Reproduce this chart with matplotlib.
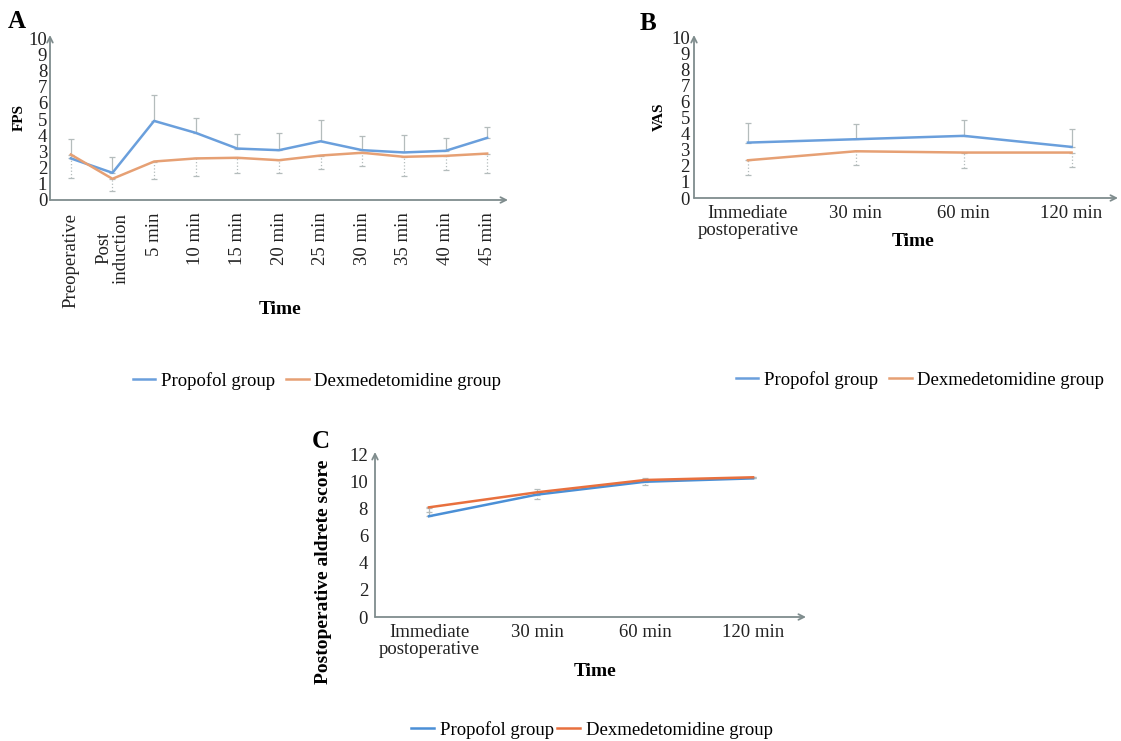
import matplotlib.pyplot as plt
import numpy as np

plt.rcParams['font.family'] = ['Liberation Serif', 'DejaVu Serif']

# Panel A: FPS during the procedure
times_a = ["Preoperative", "Post\ninduction", "5 min", "10 min", "15 min", "20 min",
           "25 min", "30 min", "35 min", "40 min", "45 min"]
fps_propofol = [2.57, 1.68, 4.89, 4.15, 3.18, 3.08, 3.63, 3.08, 2.94, 3.04, 3.84]
fps_propofol_sd = [1.23, 0.99, 1.58, 0.92, 0.89, 1.09, 1.30, 0.88, 1.06, 0.82, 0.68]
fps_dex = [2.81, 1.31, 2.38, 2.57, 2.61, 2.46, 2.75, 2.92, 2.67, 2.73, 2.87]
fps_dex_sd = [1.43, 0.76, 1.07, 1.09, 0.93, 0.78, 0.84, 0.81, 1.21, 0.88, 1.19]

# Panel B: VAS after surgery
times_post = ["Immediate\npostoperative", "30 min", "60 min", "120 min"]
vas_propofol = [3.45, 3.66, 3.87, 3.18]
vas_propofol_sd = [1.19, 0.93, 0.97, 1.10]
vas_dex = [2.35, 2.91, 2.83, 2.83]
vas_dex_sd = [0.89, 0.83, 0.96, 0.92]

# Panel C: Aldrete score
ald_propofol = [7.45, 9.05, 10.0, 10.25]
ald_propofol_sd = [0.64, 0.44, 0.25, 0.0]
ald_dex = [8.11, 9.22, 10.13, 10.33]
ald_dex_sd = [0.37, 0.49, 0.37, 0.0]

W, H = 1121, 741
AXC = "#7f8c8d"
ERRC = "#b4bcbc"
FS = 13.5


def rect(l, r, b, t):
    return [l / W, 1 - b / H, (r - l) / W, (b - t) / H]


def style_axes(ax):
    for s in ax.spines.values():
        s.set_visible(False)
    ax.annotate('', xy=(1, 0), xytext=(0, 0), xycoords='axes fraction',
                arrowprops=dict(arrowstyle='->', color=AXC, lw=1.3,
                                shrinkA=0, shrinkB=0))
    ax.annotate('', xy=(0, 1), xytext=(0, 0), xycoords='axes fraction',
                arrowprops=dict(arrowstyle='->', color=AXC, lw=1.3,
                                shrinkA=0, shrinkB=0))
    ax.tick_params(length=0, labelsize=FS, colors="#222222")


def draw(ax, x, prop, prop_err, dex, dex_err, cblue, corange):
    z = np.zeros(len(x))
    ax.errorbar(x, prop, yerr=[z, prop_err], fmt='none', ecolor=ERRC,
                elinewidth=0.9, capsize=2, capthick=0.9, zorder=1)
    e2 = ax.errorbar(x, dex, yerr=[dex_err, z], fmt='none', ecolor=ERRC,
                     elinewidth=0.9, capsize=2, capthick=0.9, zorder=1)
    e2[2][0].set_linestyle(':')
    ax.plot(x, prop, color=cblue, lw=1.8, label="Propofol group", zorder=3)
    ax.plot(x, dex, color=corange, lw=1.8, label="Dexmedetomidine group", zorder=3)


def legend(handles, labels, cx, cy, colsp):
    fig.legend(handles, labels, loc='center', bbox_to_anchor=(cx / W, 1 - cy / H),
               ncol=2, frameon=False, fontsize=FS, handlelength=1.2, handletextpad=0.3,
               columnspacing=colsp)


fig = plt.figure(figsize=(W / 100, H / 100), dpi=100)

# ---- A
axA = fig.add_axes(rect(50, 508, 200, 35))
xa = np.arange(len(times_a))
draw(axA, xa, fps_propofol, fps_propofol_sd, fps_dex, fps_dex_sd, "#6a9fdc", "#e6a074")
axA.set_xlim(-0.5, 10.5)
axA.set_ylim(0, 10.2)
axA.set_yticks(range(0, 11))
axA.set_xticks(xa)
axA.set_xticklabels(times_a, rotation=90, va='top', ha='center', multialignment='center',
                    linespacing=1.0)
style_axes(axA)
axA.tick_params(axis='y', pad=2)
axA.tick_params(axis='x', pad=9)
axA.set_ylabel("FPS", fontsize=11, fontweight='bold', labelpad=2)
fig.text(280 / W, 1 - 310 / H, "Time", fontsize=14, fontweight='bold', ha='center', va='center')
fig.text(17 / W, 1 - 22 / H, "A", fontsize=18, fontweight='bold', ha='center', va='center')
legend(*axA.get_legend_handles_labels(), 317, 381, 0.6)

# ---- B
axB = fig.add_axes(rect(694, 1118, 198, 35))
xp = np.arange(len(times_post))
draw(axB, xp, vas_propofol, vas_propofol_sd, vas_dex, vas_dex_sd, "#6a9fdc", "#e6a074")
axB.set_xlim(-0.5, 3.43)
axB.set_ylim(0, 10.15)
axB.set_yticks(range(0, 11))
axB.set_xticks(xp)
axB.set_xticklabels(times_post, linespacing=1.0)
style_axes(axB)
axB.tick_params(axis='y', pad=3)
axB.tick_params(axis='x', pad=5)
axB.set_ylabel("VAS", fontsize=11, fontweight='bold', labelpad=4)
fig.text(913 / W, 1 - 242 / H, "Time", fontsize=14, fontweight='bold', ha='center', va='center')
fig.text(648 / W, 1 - 23 / H, "B", fontsize=18, fontweight='bold', ha='center', va='center')
legend(*axB.get_legend_handles_labels(), 920, 380, 0.6)

# ---- C
axC = fig.add_axes(rect(375, 806, 617, 452))
draw(axC, xp, ald_propofol, ald_propofol_sd, ald_dex, ald_dex_sd, "#3f7fa8", "#e8703e")
axC.set_xlim(-0.5, 3.49)
axC.set_ylim(0, 12.2)
axC.set_yticks(range(0, 13, 2))
axC.set_xticks(xp)
axC.set_xticklabels(times_post, linespacing=1.0)
style_axes(axC)
axC.tick_params(axis='y', pad=5)
axC.tick_params(axis='x', pad=5)
fig.text(324 / W, 1 - 572 / H, "Postoperative aldrete score", fontsize=14, fontweight='bold',
         rotation=90, ha='center', va='center')
fig.text(595 / W, 1 - 672 / H, "Time", fontsize=14, fontweight='bold', ha='center', va='center')
fig.text(321 / W, 1 - 442 / H, "C", fontsize=18, fontweight='bold', ha='center', va='center')
hC, lC = axC.get_legend_handles_labels()
hC[0].set_color("#4a8fd6")
legend(hC, lC, 592, 730, 0.2)

fig.savefig("out.png", dpi=100)
